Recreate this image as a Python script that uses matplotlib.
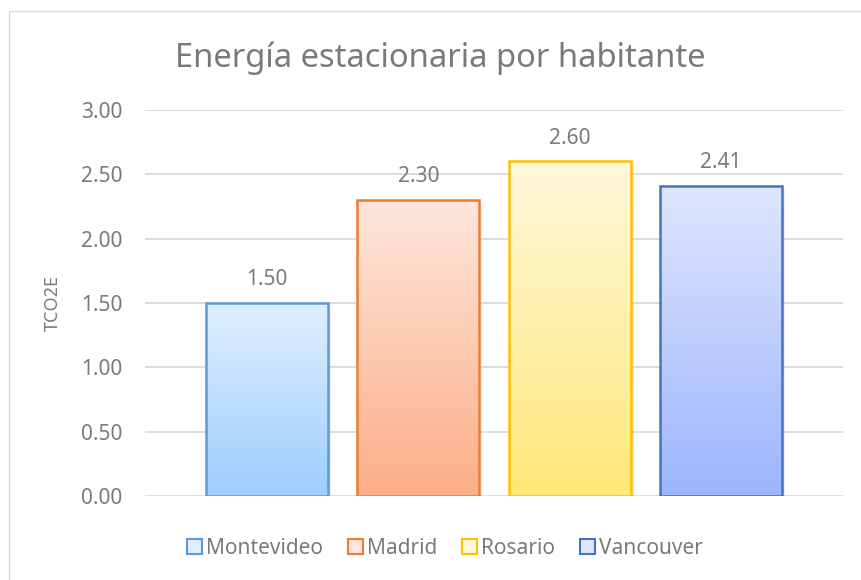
import numpy as np
import matplotlib.pyplot as plt
from matplotlib.colors import LinearSegmentedColormap
from matplotlib.patches import Rectangle

plt.rcParams['font.family'] = ['Noto Sans', 'DejaVu Sans']

# datos
ciudades = ['Montevideo', 'Madrid', 'Rosario', 'Vancouver']
valores  = [1.50, 2.30, 2.60, 2.41]
yticks   = [0.0, 0.5, 1.0, 1.5, 2.0, 2.5, 3.0]

# estilos: borde, color arriba, color abajo
bordes  = ['#5b9bd5', '#ed7d31', '#ffc000', '#4472c4']
arriba  = ['#e0efff', '#fde6db', '#fff8dc', '#dfe6fe']
abajo   = ['#9dcdfd', '#fcae88', '#fee878', '#9cb5fd']

gris = '#7a7a7a'

fig = plt.figure(figsize=(8.61, 5.80), dpi=100)
# borde del grafico
fig.patches.append(Rectangle((9/861, -0.05), 1.2, 1 - 11/580 + 0.05,
                             transform=fig.transFigure, fill=False,
                             edgecolor='#d9d9d9', linewidth=1.0))
ax = fig.add_axes([145/861, 1 - 496/580, 698/861, 386/580])

x = np.arange(len(valores))
ancho = 0.806
grad = np.linspace(0, 1, 256).reshape(-1, 1)
for i, v in enumerate(valores):
    cmap = LinearSegmentedColormap.from_list('g%d' % i, [abajo[i], arriba[i]])
    # sombra suave
    sh = Rectangle((x[i] - ancho/2 + 0.02, -0.02), ancho, v, facecolor='#000000',
                   alpha=0.06, edgecolor='none', zorder=2)
    ax.add_patch(sh)
    im = ax.imshow(grad, cmap=cmap, aspect='auto', origin='lower',
                   extent=[x[i] - ancho/2, x[i] + ancho/2, 0, v], zorder=3)
    r = Rectangle((x[i] - ancho/2, 0), ancho, v, facecolor='none',
                  edgecolor=bordes[i], linewidth=1.8, zorder=4)
    ax.add_patch(r)
    im.set_clip_path(r)
    ax.text(x[i], v + 0.1, '%.2f' % v, ha='center', va='bottom',
            fontsize=15, color=gris, zorder=5)

ax.set_xlim(-0.807, 3.807)
ax.set_ylim(0, 3)
ax.set_yticks(yticks)
ax.set_yticklabels(['%.2f' % t for t in yticks])
ax.set_xticks([])
ax.tick_params(axis='y', length=0, pad=16.5, labelsize=15, labelcolor=gris)
ax.grid(axis='y', color='#d9d9d9', linewidth=1.3, zorder=0)
ax.set_axisbelow(True)
for s in ax.spines.values():
    s.set_visible(False)
ax.set_ylabel('TCO2E', fontsize=13, color=gris)
ax.yaxis.set_label_coords(-0.119, 0.5)

fig.text(440/861, 1 - 58/580, 'Energía estacionaria por habitante',
         ha='center', va='center', fontsize=23.6, color=gris)

# leyenda
handles = [Rectangle((0, 0), 1, 1, facecolor=arriba[i], edgecolor=bordes[i],
                     linewidth=1.5) for i in range(len(ciudades))]
fig.legend(handles, ciudades, loc='center', bbox_to_anchor=(445/861, 1 - 548/580),
           ncol=4, frameon=False, fontsize=15, labelcolor=gris,
           handlelength=0.7, handleheight=0.7, handletextpad=0.2,
           columnspacing=1.2)

fig.savefig('out.png', dpi=100)
